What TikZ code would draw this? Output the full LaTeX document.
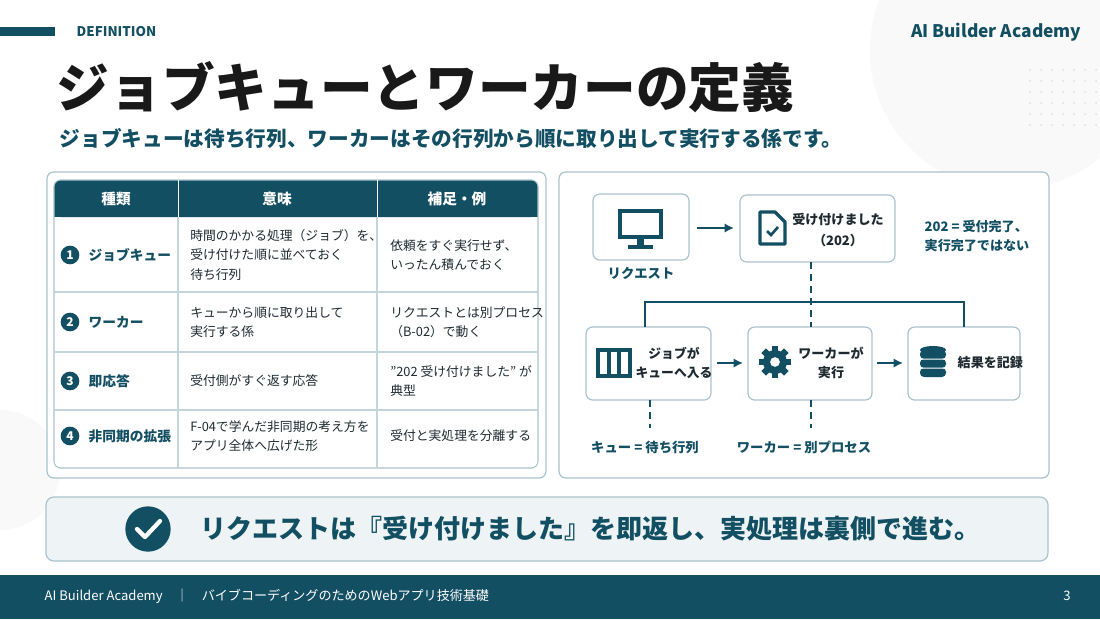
\documentclass[tikz,border=0pt]{standalone}
\usepackage{fontspec}
\setmainfont{Noto Sans CJK JP}
\usetikzlibrary{arrows.meta,shapes.geometric}
\definecolor{teal}{HTML}{134F63}
\definecolor{edge}{HTML}{A9C3CC}
\definecolor{pale}{HTML}{EEF4F6}
\definecolor{txt}{HTML}{1E2A30}
\newcommand{\fs}[1]{\fontsize{#1}{#1}\selectfont}
\tikzset{
 box/.style={draw=edge,line width=0.9pt,rounded corners=5pt,fill=white},
 cell/.style={font=\fs{10.5}\bfseries,text=txt,anchor=west,align=left},
 num/.style={circle,fill=teal,text=white,font=\fs{9}\bfseries,inner sep=0pt,minimum size=14pt},
 arr/.style={-{Latex[length=7pt,width=7pt]},line width=1.6pt,draw=teal},
 dsh/.style={dashed,line width=1.4pt,draw=teal,dash pattern=on 5pt off 4pt},
 lbl/.style={font=\fs{10}\bfseries,text=teal},
}
\begin{document}
\begin{tikzpicture}[x=0.75pt,y=-0.75pt]
\useasboundingbox (0,0) rectangle (1100,619);
\fill[white] (0,0) rectangle (1100,619);
\fill[black!2.5] (1010,50) circle (140);
\fill[black!2.5] (0,470) circle (60);
\foreach \i in {0,...,6}{\foreach \j in {0,...,5}{\fill[black!12] (1030+\i*11,70+\j*11) circle (1);}}
% header
\fill[teal] (0,27) rectangle (55,36);
\node[anchor=west,font=\fs{10}\bfseries,text=teal] (def) at (72,32) {DEFINITION};
\node[anchor=east,font=\fs{13}\bfseries,text=teal] (brand) at (1086,32) {AI Builder Academy};
\node[anchor=west,font=\fs{39.5}\bfseries,text=black!90] (title) at (52,87) {ジョブキューとワーカーの定義};
\node[anchor=west,font=\fs{15.5}\bfseries,text=teal] (sub) at (55,138) {ジョブキューは待ち行列、ワーカーはその行列から順に取り出して実行する係です。};
% left panel
\draw[box] (47,172) rectangle (546,478);
\fill[teal,rounded corners=5pt] (54,180) rectangle (538,217);
\fill[teal] (54,205) rectangle (538,217);
\draw[edge,rounded corners=5pt,line width=0.8pt] (54,180) rectangle (538,468);
\foreach \y in {292,352,410}{\draw[edge!70,line width=0.8pt] (54,\y) -- (538,\y);}
\draw[white,line width=0.6pt] (178,180) -- (178,217) (377,180) -- (377,217);
\draw[edge!70,line width=0.8pt] (178,217) -- (178,468) (377,217) -- (377,468);
\node[font=\fs{11}\bfseries,text=white] (h1) at (116,199) {種類};
\node[font=\fs{11}\bfseries,text=white] (h2) at (277,199) {意味};
\node[font=\fs{11}\bfseries,text=white] (h3) at (457,199) {補足・例};
\node[num] (n1) at (70,255) {1};
\node[num] (n2) at (70,322) {2};
\node[num] (n3) at (70,381) {3};
\node[num] (n4) at (70,436) {4};
\node[cell,font=\fs{10.3}\bfseries,text=teal] (k1) at (84,255) {ジョブキュー};
\node[cell,font=\fs{10.3}\bfseries,text=teal] (k2) at (84,322) {ワーカー};
\node[cell,font=\fs{10.3}\bfseries,text=teal] (k3) at (84,381) {即応答};
\node[cell,font=\fs{10.3}\bfseries,text=teal] (k4) at (84,436) {非同期の拡張};
\tikzset{cell/.append style={font=\fontsize{9.6}{14.3}\selectfont\mdseries,text=txt,inner sep=0pt,align=left}}
\node[cell] (m1) at (190,255) {時間のかかる処理（ジョブ）を、\\受け付けた順に並べておく\\待ち行列};
\node[cell] (m2) at (190,322) {キューから順に取り出して\\実行する係};
\node[cell] (m3) at (190,381) {受付側がすぐ返す応答};
\node[cell] (m4) at (190,436) {F-04で学んだ非同期の考え方を\\アプリ全体へ広げた形};
\node[cell] (e1) at (390,255) {依頼をすぐ実行せず、\\いったん積んでおく};
\node[cell] (e2) at (390,322) {リクエストとは別プロセス\\（B-02）で動く};
\node[cell] (e3) at (390,381) {"202 受け付けました" が\\典型};
\node[cell] (e4) at (390,436) {受付と実処理を分離する};
% right panel
\draw[box] (559,172) rectangle (1049,478);
\draw[box,fill=white] (593,194) rectangle (689,260);
\node[inner sep=0pt] (req) at (641,227) {};
\draw[box,fill=white] (740,195) rectangle (895,262);
\coordinate (acc) at (811,262);
\draw[box] (586,327) rectangle (711,400);
\draw[box] (748,327) rectangle (872,400);
\draw[box] (908,327) rectangle (1020,400);
% monitor icon
\draw[teal,line width=3pt] (620,211) rectangle (661,237);
\fill[teal] (637,238) rectangle (644,246);
\fill[teal] (628,245) rectangle (653,249);
\node[lbl] (reql) at (641,273) {リクエスト};
\coordinate (a1s) at (697,228); \coordinate (a1e) at (734,228);
\draw[arr] (a1s) -- (a1e);
% doc icon
\draw[teal,line width=2.6pt,line join=round] (760,212) -- (775,212) -- (785,222) -- (785,244) -- (760,244) -- cycle;
\draw[teal,line width=2pt] (767,231) -- (771,235) -- (778,227);
\node[font=\fontsize{9.8}{15.5}\selectfont\bfseries,text=txt,align=center] (acct) at (838,230) {受け付けました\\（202）};
\node[font=\fontsize{9.8}{14}\selectfont\bfseries,text=teal,align=left,anchor=west] (note) at (920,236) {202 = 受付完了、\\実行完了ではない};
% connectors
\draw[dsh] (acc) -- (811,327);
\draw[teal,line width=1.5pt] (645,327) -- (645,302) -- (964,302) -- (964,327);
% queue icon
\draw[teal,line width=2.8pt] (598,350) rectangle (630,376);
\draw[teal,line width=2.8pt] (608.7,350) -- (608.7,376) (619.3,350) -- (619.3,376);
\node[font=\fontsize{9.6}{14}\selectfont\bfseries,text=txt,align=center] (qt) at (674,363) {ジョブが\\キューへ入る};
% gear
\begin{scope}[shift={(775,362)}]
\foreach \a in {0,45,...,315}{\fill[teal,rotate=\a] (-3.2,-16) rectangle (3.2,-9);}
\fill[teal,even odd rule] (0,0) circle (12) (0,0) circle (5);
\end{scope}
\node[font=\fontsize{9.8}{14}\selectfont\bfseries,text=txt,align=center] (wt) at (831,363) {ワーカーが\\実行};
% db
\begin{scope}[shift={(933,363)}]
\foreach \yy in {-9,0,9}{\fill[teal,rounded corners=3pt] (-13,\yy-4) rectangle (13,\yy+5);}
\fill[teal] (0,-13) ellipse (13 and 4);
\fill[white] (-13,-4.4) rectangle (13,-3.4) (-13,4.6) rectangle (13,5.6);
\end{scope}
\node[font=\fs{9.8}\bfseries,text=txt,anchor=west] (dt) at (953,363) {結果を記録};
\draw[arr] (717,363) -- (743,363);
\draw[arr] (877,363) -- (903,363);
\draw[dsh] (650,400) -- (650,428);
\draw[dsh] (811,400) -- (811,428);
\node[lbl] (ql) at (645,447) {キュー = 待ち行列};
\node[lbl] (wl) at (804,447) {ワーカー = 別プロセス};
% summary
\draw[draw=edge,fill=pale,line width=0.9pt,rounded corners=6pt] (46,497) rectangle (1048,561);
\node[circle,fill=teal,minimum size=34pt,inner sep=0pt] (chk) at (148,529) {};
\draw[white,line width=3.2pt,line cap=round,line join=round] (137,529) -- (145,537) -- (160,521);
\node[anchor=west,font=\fs{19.5}\bfseries,text=teal] (sum) at (196,529) {リクエストは『受け付けました』を即返し、実処理は裏側で進む。};
% footer
\fill[teal] (0,575) rectangle (1100,619);
\node[anchor=west,font=\fs{9.8},text=white] (ft) at (40,596) {AI Builder Academy\quad ｜\quad バイブコーディングのためのWebアプリ技術基礎};
\node[font=\fs{9.8},text=white] (pg) at (1067,596) {3};
\end{tikzpicture}
\end{document}
